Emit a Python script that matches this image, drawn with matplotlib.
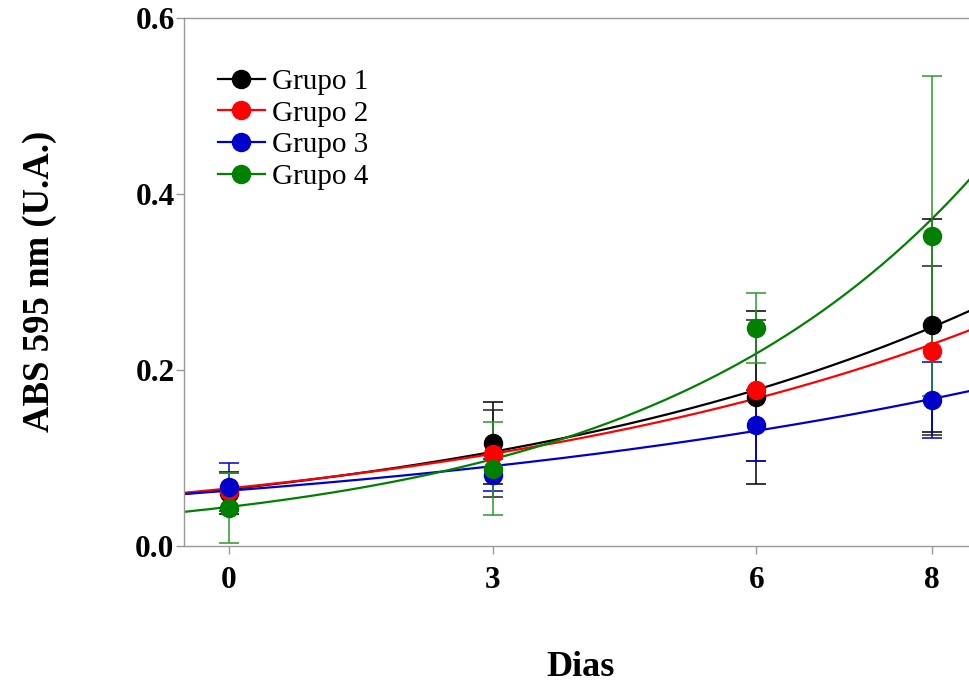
import numpy as np
import matplotlib.pyplot as plt

# days and group means / errors
dias = [0, 3, 6, 8]
grupos = ['Grupo 1', 'Grupo 2', 'Grupo 3', 'Grupo 4']
media = {
    'Grupo 1': [0.060, 0.117, 0.169, 0.251],
    'Grupo 2': [0.063, 0.105, 0.177, 0.222],
    'Grupo 3': [0.067, 0.081, 0.137, 0.166],
    'Grupo 4': [0.043, 0.088, 0.248, 0.352],
}
erro = {
    'Grupo 1': [0.024, 0.047, 0.098, 0.121],
    'Grupo 2': [0.020, 0.049, 0.080, 0.096],
    'Grupo 3': [0.027, 0.018, 0.040, 0.043],
    'Grupo 4': [0.040, 0.053, 0.040, 0.182],
}
cores = {'Grupo 1': 'black', 'Grupo 2': '#ff0000', 'Grupo 3': '#0000cc', 'Grupo 4': '#008000'}
cores_erro = {'Grupo 1': 'black', 'Grupo 2': '#222222', 'Grupo 3': '#0000cc', 'Grupo 4': '#2a9a2a'}

plt.rcParams['font.family'] = ['Liberation Serif', 'DejaVu Serif']

fig = plt.figure(figsize=(9.7, 6.86), dpi=100)
ax = fig.add_axes([0.19, 0.204, 0.907, 0.77])

xs = np.linspace(-0.5, 9.5, 300)
for g in grupos:
    x = np.array(dias, float)
    y = np.array(media[g])
    # exponential fit y = a*exp(b*x), log fit weighted by y
    b, loga = np.polyfit(x, np.log(y), 1, w=np.sqrt(y))
    ax.plot(xs, np.exp(loga) * np.exp(b * xs), color=cores[g], lw=1.6, zorder=2)
    ax.errorbar(x, y, yerr=erro[g], fmt='none', ecolor=cores_erro[g],
                elinewidth=1.1, capsize=7, capthick=1.1, zorder=3)
    ax.plot(x, y, 'o', color=cores[g], ms=13, zorder=4)
    ax.plot([], [], '-o', color=cores[g], ms=13, lw=1.6, label=g)

ax.set_xlim(-0.51, 9.5)
ax.set_ylim(0, 0.6)
ax.set_xticks(dias)
ax.set_yticks([0.0, 0.2, 0.4, 0.6])
ax.set_yticklabels(['0.0', '0.2', '0.4', '0.6'])
for s in ['left', 'bottom', 'top', 'right']:
    ax.spines[s].set_color('#999999')
    ax.spines[s].set_linewidth(1.0)
ax.tick_params(length=6, width=1, color='#999999', labelsize=22.5)
ax.tick_params(axis='x', pad=8)
ax.tick_params(axis='y', pad=1)
for lab in ax.get_xticklabels() + ax.get_yticklabels():
    lab.set_fontweight('bold')

ax.set_ylabel('ABS 595 nm (U.A.)', fontsize=26.5, fontweight='bold')
ax.yaxis.set_label_coords(-0.145, 0.502)
fig.text(0.598, 0.027, 'Dias', fontsize=26, fontweight='bold', ha='center', va='center')

ax.legend(loc='upper left', bbox_to_anchor=(0.025, 0.926), frameon=False,
          fontsize=21, handlelength=1.6, handletextpad=0.25, labelspacing=0.18,
          borderaxespad=0)

fig.savefig('out.png', dpi=100)
